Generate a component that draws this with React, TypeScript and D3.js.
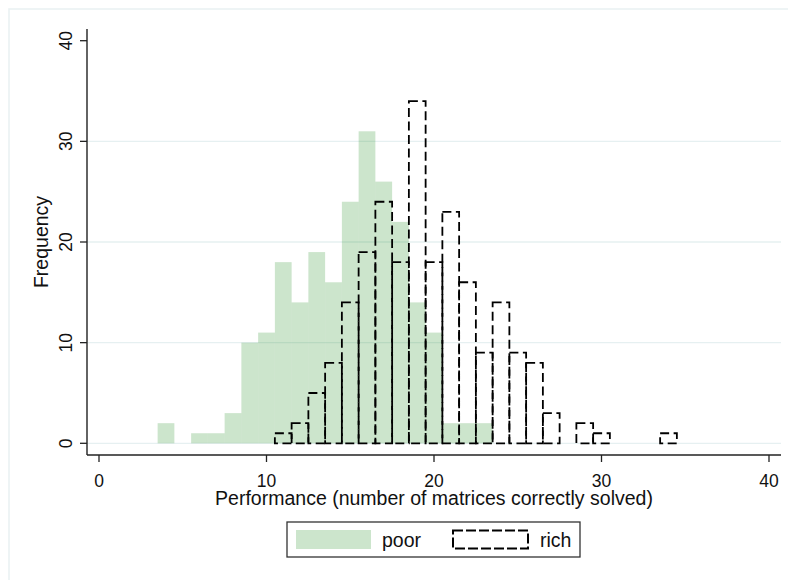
import React from "react";
import * as d3 from "d3";

// histogram bins (centred on whole numbers) and their frequencies
const poorBins = [4, 5, 6, 7, 8, 9, 10, 11, 12, 13, 14, 15, 16, 17, 18, 19, 20, 21, 22, 23];
const poorFreq = [2, 0, 1, 1, 3, 10, 11, 18, 14, 19, 16, 24, 31, 26, 22, 14, 11, 2, 2, 2];
const richBins = [11, 12, 13, 14, 15, 16, 17, 18, 19, 20, 21, 22, 23, 24, 25, 26, 27, 28, 29, 30, 31, 32, 33, 34];
const richFreq = [1, 2, 5, 8, 14, 19, 24, 18, 34, 18, 23, 16, 9, 14, 9, 8, 3, 0, 2, 1, 0, 0, 0, 1];
const xTicks = [0, 10, 20, 30, 40];
const yTicks = [0, 10, 20, 30, 40];
const gridTicks = [0, 10, 20, 30];
const legendLabels = ["poor", "rich"];

const font = "'Liberation Sans', Arial, sans-serif";

export default function App() {
  const x = d3.scaleLinear().domain([0, 40]).range([99, 769]);
  const y = d3.scaleLinear().domain([0, 40]).range([443.3, 40.7]);

  const left = 87, right = 781, top = 29, bottom = 455;

  const bar = (c: number, n: number) => ({
    x: x(c - 0.5),
    y: y(n),
    w: x(c + 0.5) - x(c - 0.5),
    h: y(0) - y(n),
  });

  const poor = poorBins.map((c, i) => ({ c, n: poorFreq[i] })).filter(d => d.n > 0);
  const rich = richBins.map((c, i) => ({ c, n: richFreq[i] })).filter(d => d.n > 0);

  return (
    <svg width={788} height={580} style={{ position: "absolute", left: 0, top: 0, background: "#fff" }}
      fontFamily={font}>
      {/* graph region outline, cropped by the picture edge */}
      <rect x={9} y={9} width={800} height={600} fill="none" stroke="#eaf2f3" strokeWidth={1.6} />

      {gridTicks.map(t => (
        <line key={t} x1={left} x2={right} y1={y(t)} y2={y(t)} stroke="#e6f0f1" strokeWidth={1.3} />
      ))}

      {poor.map(d => {
        const b = bar(d.c, d.n);
        return <rect key={"p" + d.c} x={b.x} y={b.y} width={b.w} height={b.h}
          fill="#007f00" fillOpacity={0.2} />;
      })}

      {rich.map(d => {
        const b = bar(d.c, d.n);
        return <rect key={"r" + d.c} x={b.x} y={b.y} width={b.w} height={b.h}
          fill="none" stroke="#000" strokeWidth={1.8} strokeDasharray="9 4.5" />;
      })}

      {/* y axis */}
      <line x1={left} x2={left} y1={top} y2={bottom} stroke="#222" strokeWidth={1.4} />
      {yTicks.map(t => (
        <g key={t}>
          <line x1={left - 7} x2={left} y1={y(t)} y2={y(t)} stroke="#222" strokeWidth={1.3} />
          <text transform={`translate(72,${y(t)}) rotate(-90)`} textAnchor="middle" fontSize={17.5} fill="#111">{t}</text>
        </g>
      ))}
      <text transform={`translate(48,${(top + bottom) / 2}) rotate(-90)`} textAnchor="middle" fontSize={19.5} fill="#111">Frequency</text>

      {/* x axis */}
      <line x1={left} x2={right} y1={bottom} y2={bottom} stroke="#222" strokeWidth={1.4} />
      {xTicks.map(t => (
        <g key={t}>
          <line x1={x(t)} x2={x(t)} y1={bottom} y2={bottom + 7} stroke="#222" strokeWidth={1.3} />
          <text x={x(t)} y={487} textAnchor="middle" fontSize={17.5} fill="#111">{t}</text>
        </g>
      ))}
      <text x={(left + right) / 2} y={504.5} textAnchor="middle" fontSize={19.5} fill="#111">
        Performance (number of matrices correctly solved)
      </text>

      {/* legend */}
      <rect x={287} y={522} width={293} height={35} fill="#fff" stroke="#333" strokeWidth={1.3} />
      <rect x={296} y={530} width={75} height={19} fill="#007f00" fillOpacity={0.2} />
      <text x={382} y={546.5} fontSize={19.5} fill="#111">{legendLabels[0]}</text>
      <rect x={453} y={530.5} width={75} height={18} fill="none" stroke="#000" strokeWidth={2} strokeDasharray="10 3" />
      <text x={540} y={546.5} fontSize={19.5} fill="#111">{legendLabels[1]}</text>
    </svg>
  );
}
